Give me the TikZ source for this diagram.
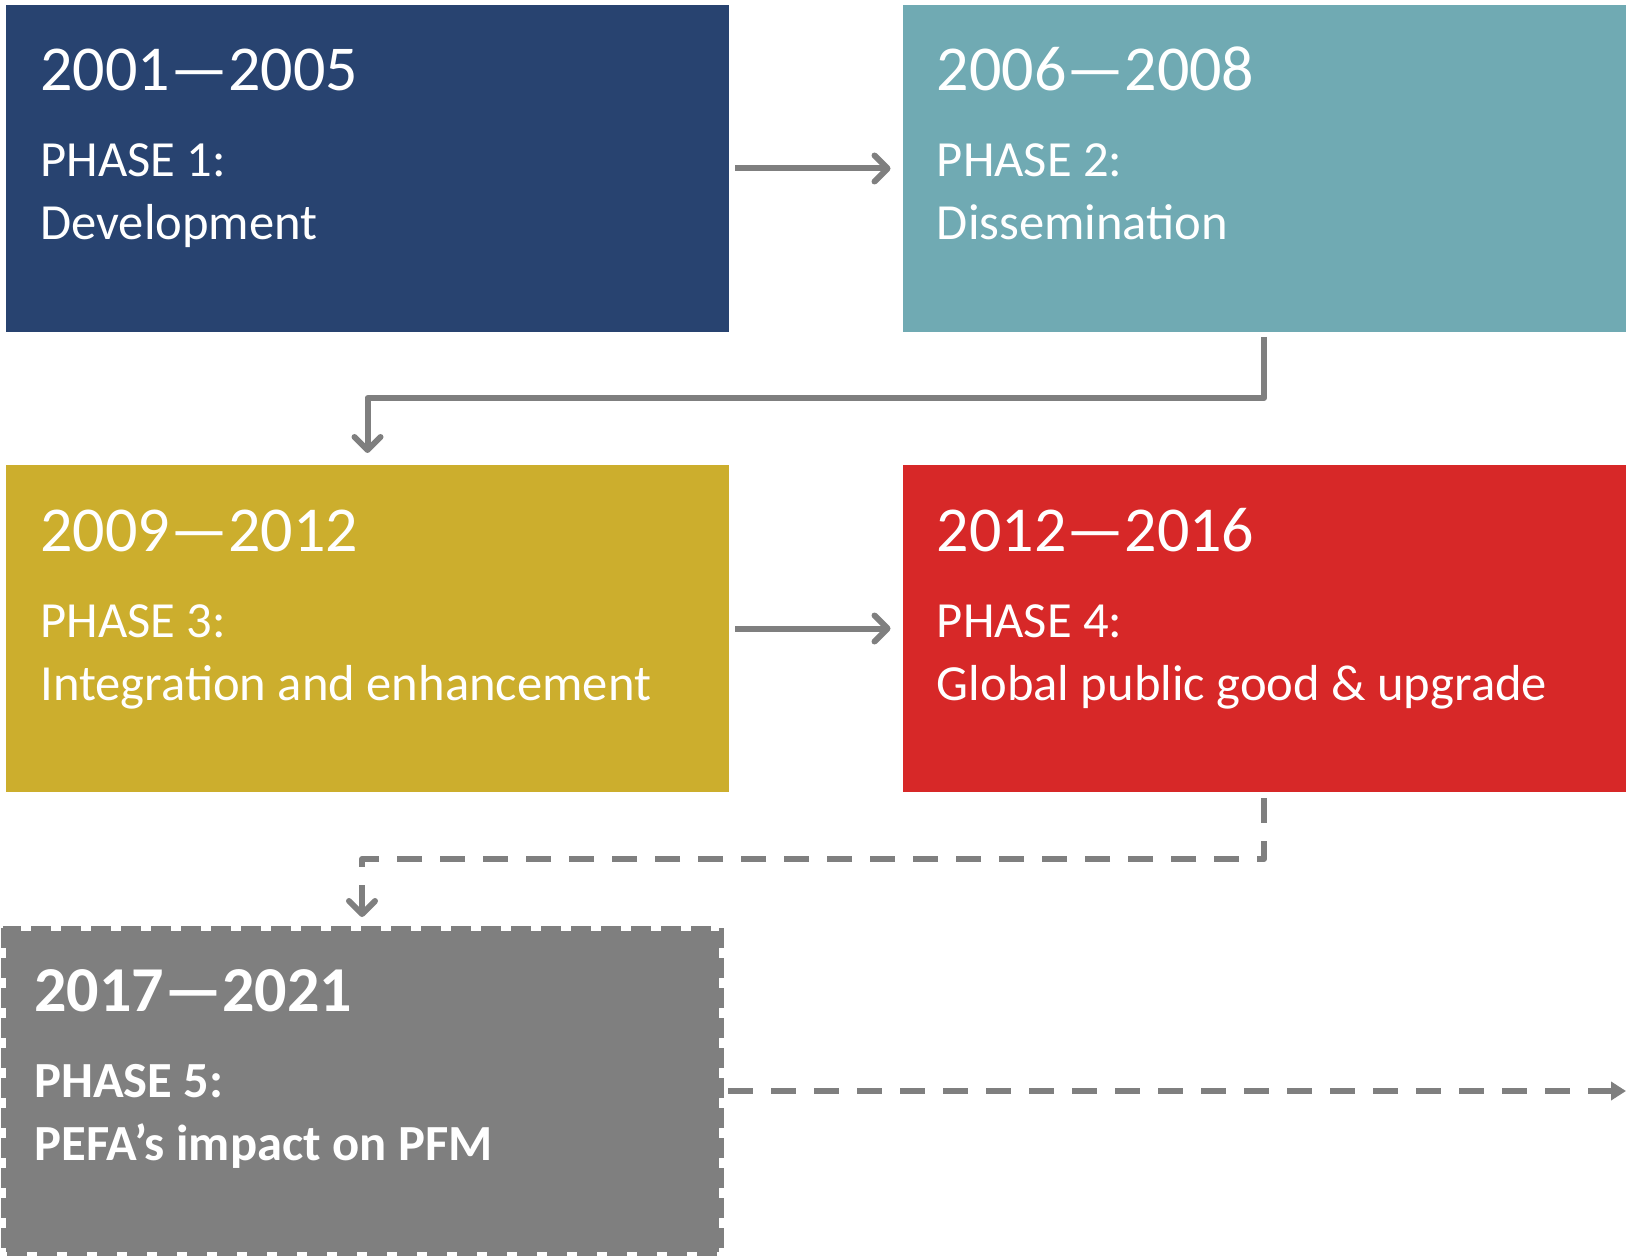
\documentclass[tikz,border=0pt]{standalone}
\usepackage{fontspec}
\setmainfont{Carlito}
\usepackage{xcolor}
\definecolor{phaseblue}{RGB}{40,67,112}
\definecolor{phaseteal}{RGB}{112,170,179}
\definecolor{phasegold}{RGB}{204,174,45}
\definecolor{phasered}{RGB}{215,40,40}
\definecolor{phasegrey}{RGB}{127,127,127}
\usetikzlibrary{arrows.meta,positioning,calc}

\begin{document}
\begin{tikzpicture}[
    x=0.5pt, y=-0.5pt,
    phasebox/.style={rectangle, minimum width=361.5pt, minimum height=163.5pt, inner sep=0pt, outer sep=0pt},
    yeartext/.style={anchor=base west, inner sep=0pt, text=white, font=\fontsize{32}{38}\selectfont},
    phasetext/.style={anchor=base west, inner sep=0pt, text=white, font=\fontsize{25.3}{30}\selectfont},
    link/.style={draw=phasegrey, line width=3pt, line join=round, -{Straight Barb[length=6.5pt, width=13pt, line cap=round, line join=round]}},
    dashlink/.style={link, dash pattern=on 12.5pt off 9pt},
    outlink/.style={draw=phasegrey, line width=3pt, dash pattern=on 12.5pt off 9pt, -{Triangle[length=7.5pt, width=9pt]}}
]
\useasboundingbox (0,0) rectangle (1626,1256);

% phase boxes
\node[phasebox, fill=phaseblue] (p1) at (367.5,168.5) {};
\node[phasebox, fill=phaseteal] (p2) at (1264,168.5) {};
\node[phasebox, fill=phasegold] (p3) at (367.5,628.5) {};
\node[phasebox, fill=phasered] (p4) at (1264,628.5) {};
\node[phasebox, fill=phasegrey, draw=white, line width=2.5pt, minimum width=359pt, minimum height=163pt] (p5) at (362,1091) {};
\draw[phasegrey, line width=2.5pt, dash pattern=on 10pt off 5pt] (p5.north west) rectangle (p5.south east);

% texts
\node[yeartext] (y1) at ($(p1.north west)+(34,86)$) {2001—2005};
\node[phasetext] (h1) at ($(y1.base west)+(0,86)$) {PHASE 1:};
\node[phasetext] (n1) at ($(h1.base west)+(0,63)$) {Development};

\node[yeartext] (y2) at ($(p2.north west)+(34,86)$) {2006—2008};
\node[phasetext] (h2) at ($(y2.base west)+(0,86)$) {PHASE 2:};
\node[phasetext] (n2) at ($(h2.base west)+(0,63)$) {Dissemination};

\node[yeartext] (y3) at ($(p3.north west)+(34,86)$) {2009—2012};
\node[phasetext] (h3) at ($(y3.base west)+(0,86)$) {PHASE 3:};
\node[phasetext] (n3) at ($(h3.base west)+(0,63)$) {Integration and enhancement};

\node[yeartext] (y4) at ($(p4.north west)+(34,86)$) {2012—2016};
\node[phasetext] (h4) at ($(y4.base west)+(0,86)$) {PHASE 4:};
\node[phasetext] (n4) at ($(h4.base west)+(0,63)$) {Global public good \& upgrade};

\node[yeartext, font=\bfseries\fontsize{32}{38}\selectfont] (y5) at (34,1011) {2017—2021};
\node[phasetext, font=\bfseries\fontsize{25.3}{30}\selectfont] (h5) at ($(y5.base west)+(0,86)$) {PHASE 5:};
\node[phasetext, font=\bfseries\fontsize{25.3}{30}\selectfont] (n5) at ($(h5.base west)+(0,63)$) {PEFA’s impact on PFM};

% connectors
\coordinate (out) at (1626,1091);
\draw[link, shorten <=3pt, shorten >=6pt] (p1) -- (p2);
\draw[link, shorten >=6pt] ($(p2.south)+(0,5)$) -- ++(0,61) -| (p3.north);
\draw[link, shorten <=3pt, shorten >=6pt] (p3) -- (p4);
\draw[dashlink, shorten >=5.5pt] ($(p4.south)+(0,6)$) -- ++(0,61) -| (p5.north);
\draw[outlink, shorten <=3.5pt] (p5.east) -- (out);

\end{tikzpicture}
\end{document}
